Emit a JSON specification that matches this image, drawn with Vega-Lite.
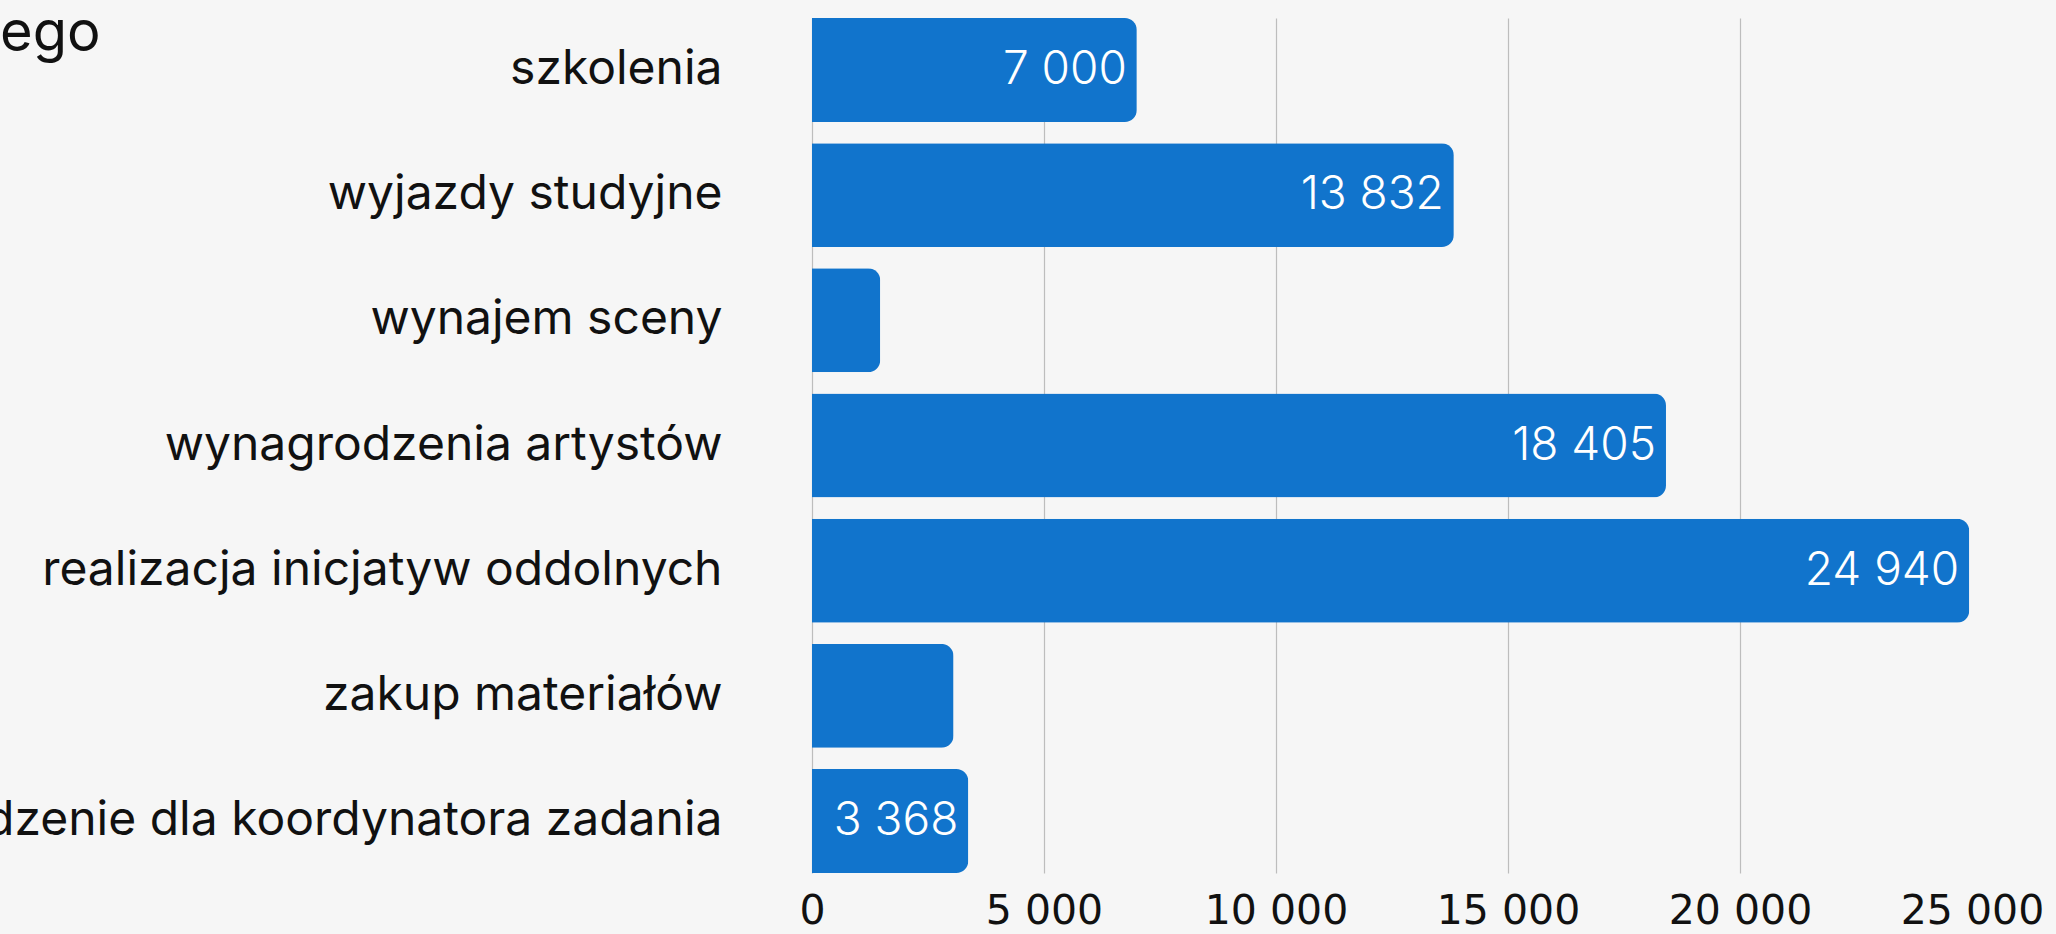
{
  "$schema": "https://vega.github.io/schema/vega-lite/v6.json",
  "autosize": {"type": "none"},
  "padding": {"left": 812, "top": 18, "right": 84, "bottom": 61},
  "width": 1160,
  "height": 855,
  "background": "#f6f6f6",
  "config": {
    "locale": {"number": {"decimal": ",", "thousands": " ", "grouping": [3], "currency": ["", " zł"]}},
    "view": {"stroke": null}
  },
  "title": {
    "text": "ego",
    "anchor": "start",
    "frame": "group",
    "dx": -812,
    "dy": 49,
    "fontSize": 56,
    "font": "Inter",
    "fontWeight": 400,
    "color": "#111111"
  },
  "data": {
    "values": [
      {"category": "szkolenia", "value": 7000, "labeled": true},
      {"category": "wyjazdy studyjne", "value": 13832, "labeled": true},
      {"category": "wynajem sceny", "value": 1470, "labeled": false},
      {"category": "wynagrodzenia artystów", "value": 18405, "labeled": true},
      {"category": "realizacja inicjatyw oddolnych", "value": 24940, "labeled": true},
      {"category": "zakup materiałów", "value": 3050, "labeled": false},
      {"category": "wynagrodzenie dla koordynatora zadania", "value": 3368, "labeled": true}
    ]
  },
  "encoding": {
    "y": {
      "field": "category",
      "type": "nominal",
      "sort": null,
      "scale": {"paddingInner": 0.17, "paddingOuter": 0},
      "axis": {
        "title": null,
        "ticks": false,
        "domain": false,
        "labelPadding": 90,
        "labelLimit": 0,
        "labelFont": "Inter",
        "labelFontSize": 48,
        "labelColor": "#111111"
      }
    },
    "x": {
      "field": "value",
      "type": "quantitative",
      "scale": {"domain": [0, 25000], "nice": false},
      "axis": {
        "title": null,
        "values": [0, 5000, 10000, 15000, 20000, 25000],
        "format": ",d",
        "ticks": false,
        "domain": false,
        "grid": true,
        "gridColor": "#bdbdbd",
        "gridWidth": 1.2,
        "gridOpacity": {"condition": {"test": "datum.value >= 25000", "value": 0}, "value": 1},
        "labelFlush": false,
        "labelPadding": 18,
        "labelFont": "DejaVu Sans",
        "labelFontSize": 41,
        "labelColor": "#111111"
      }
    }
  },
  "layer": [
    {
      "mark": {"type": "bar", "color": "#1174cc", "cornerRadiusEnd": 12}
    },
    {
      "transform": [{"filter": "datum.labeled"}],
      "mark": {
        "type": "text",
        "align": "right",
        "baseline": "middle",
        "dx": -10,
        "color": "#ffffff",
        "font": "Inter",
        "fontWeight": 300,
        "fontSize": 46
      },
      "encoding": {
        "text": {"field": "value", "type": "quantitative", "format": ",d"}
      }
    }
  ]
}
